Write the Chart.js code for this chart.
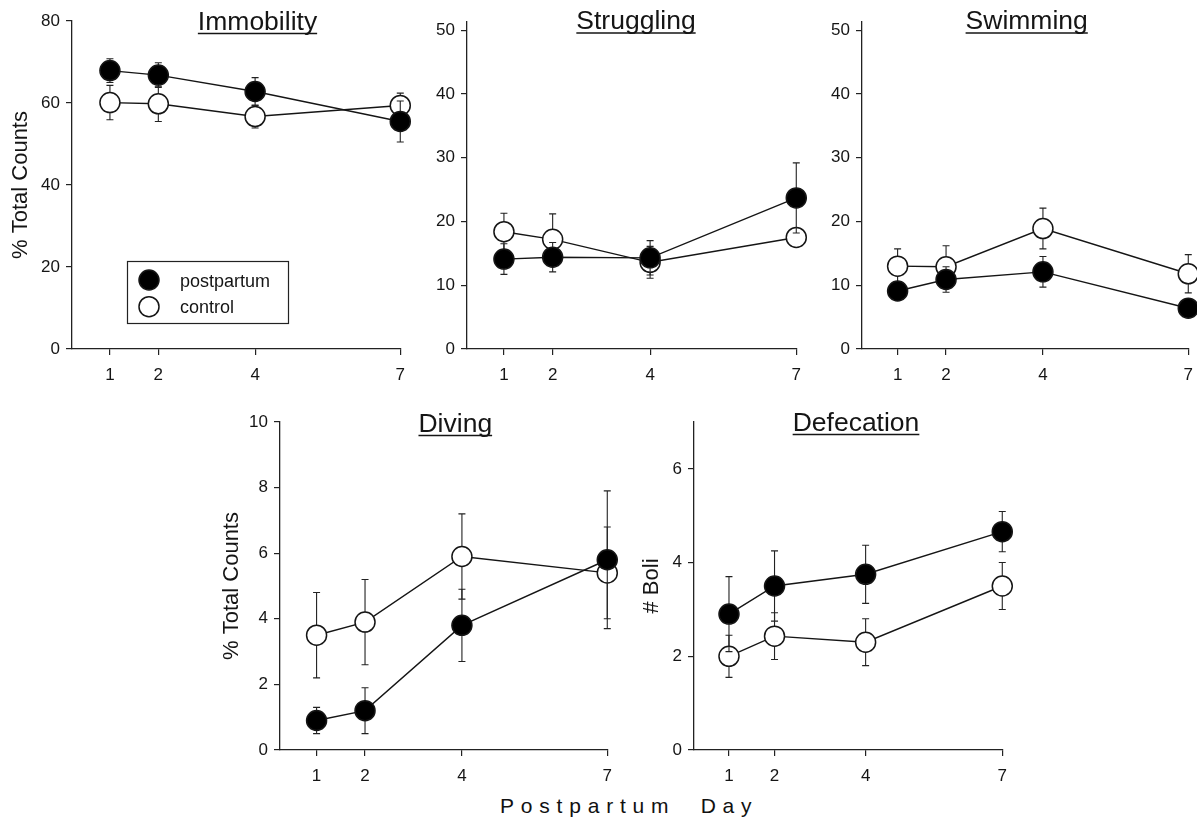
<!DOCTYPE html>
<html>
<head>
<meta charset="utf-8">
<script src="https://cdn.jsdelivr.net/npm/chart.js@4.4.1/dist/chart.umd.min.js"></script>
<style>
  html, body { margin: 0; padding: 0; background: #fff; width: 1197px; height: 824px; overflow: hidden; }
  canvas.panel { position: absolute; }
  #xlabel {
    position: absolute; left: 500px; top: 794px;
    font-family: 'Liberation Sans', Arial, sans-serif; font-size: 21px;
    letter-spacing: 6.8px; color: #111; white-space: pre;
  }
</style>
</head>
<body>
<canvas id="immobility" class="panel"></canvas>
<canvas id="struggling" class="panel"></canvas>
<canvas id="swimming" class="panel"></canvas>
<canvas id="diving" class="panel"></canvas>
<canvas id="defecation" class="panel"></canvas>
<div id="xlabel">Postpartum  Day</div>

<script>
// Postpartum test days
const days = [1, 2, 4, 7];
const dayTicks = [1, 2, 4, 7];

// Immobility (% total counts), mean and SEM
const immobilityPostpartum = [67.9, 66.8, 62.8, 55.5];
const immobilityPostpartumSem = [2.9, 3.0, 3.4, 5.0];
const immobilityControl = [60.1, 59.8, 56.7, 59.4];
const immobilityControlSem = [4.2, 4.3, 2.8, 3.0];
const immobilityTicks = [0, 20, 40, 60, 80];

// Struggling (% total counts)
const strugglingPostpartum = [14.1, 14.4, 14.3, 23.7];
const strugglingPostpartumSem = [2.4, 2.3, 2.7, 5.5];
const strugglingControl = [18.4, 17.2, 13.6, 17.5];
const strugglingControlSem = [2.9, 4.0, 2.5, 1.0];

// Swimming (% total counts)
const swimmingPostpartum = [9.1, 10.9, 12.1, 6.4];
const swimmingPostpartumSem = [1.5, 2.0, 2.4, 1.0];
const swimmingControl = [13.0, 12.9, 18.9, 11.8];
const swimmingControlSem = [2.7, 3.3, 3.2, 3.0];
const percentTicks = [0, 10, 20, 30, 40, 50];

// Diving (% total counts)
const divingPostpartum = [0.9, 1.2, 3.8, 5.8];
const divingPostpartumSem = [0.4, 0.7, 1.1, 2.1];
const divingControl = [3.5, 3.9, 5.9, 5.4];
const divingControlSem = [1.3, 1.3, 1.3, 1.4];
const divingTicks = [0, 2, 4, 6, 8, 10];

// Defecation (number of boli)
const boliPostpartum = [2.9, 3.5, 3.75, 4.66];
const boliPostpartumSem = [0.8, 0.75, 0.62, 0.43];
const boliControl = [2.0, 2.43, 2.3, 3.5];
const boliControlSem = [0.45, 0.5, 0.5, 0.5];
const boliTicks = [0, 2, 4, 6];

const seriesLabels = ['postpartum', 'control'];

const FONT = "'Liberation Sans', Arial, sans-serif";
const INK = '#151515';

// Vertical SEM bars, drawn just before each dataset so its own markers cover them
const errorBars = {
  id: 'errorBars',
  beforeDatasetDraw(chart, args) {
    const ds = chart.data.datasets[args.index];
    if (!ds.errors) return;
    const xs = chart.scales.x, ys = chart.scales.y, ctx = chart.ctx;
    ctx.save();
    ctx.strokeStyle = '#222';
    ctx.lineWidth = 1.1;
    ds.data.forEach((p, i) => {
      const e = ds.errors[i];
      const px = xs.getPixelForValue(p.x);
      const yTop = ys.getPixelForValue(p.y + e);
      const yBot = ys.getPixelForValue(p.y - e);
      ctx.beginPath();
      ctx.moveTo(px, yTop); ctx.lineTo(px, yBot);
      ctx.moveTo(px - 3.5, yTop); ctx.lineTo(px + 3.5, yTop);
      ctx.moveTo(px - 3.5, yBot); ctx.lineTo(px + 3.5, yBot);
      ctx.stroke();
    });
    ctx.restore();
  }
};

// Underlined panel heading
const panelHeading = {
  id: 'panelHeading',
  afterDraw(chart, args, opts) {
    if (!opts.text) return;
    const ctx = chart.ctx;
    ctx.save();
    ctx.font = '26.5px ' + FONT;
    ctx.fillStyle = INK;
    ctx.textAlign = 'center';
    ctx.textBaseline = 'alphabetic';
    ctx.fillText(opts.text, opts.x, opts.y);
    const w = ctx.measureText(opts.text).width;
    ctx.strokeStyle = INK;
    ctx.lineWidth = 1.6;
    ctx.beginPath();
    ctx.moveTo(opts.x - w / 2, opts.y + 4);
    ctx.lineTo(opts.x + w / 2, opts.y + 4);
    ctx.stroke();
    ctx.restore();
  }
};

// Boxed legend with the dataset markers
const boxedLegend = {
  id: 'boxedLegend',
  afterDraw(chart, args, opts) {
    if (!opts.show) return;
    const ctx = chart.ctx;
    ctx.save();
    ctx.strokeStyle = '#222';
    ctx.lineWidth = 1.2;
    ctx.strokeRect(opts.x, opts.y, opts.w, opts.h);
    ctx.font = '18px ' + FONT;
    ctx.textBaseline = 'alphabetic';
    ctx.textAlign = 'left';
    chart.data.datasets.forEach((ds, i) => {
      const cy = opts.y + 18.5 + i * 26.7;
      const cx = opts.x + 21.5;
      ctx.beginPath();
      ctx.arc(cx, cy, ds.pointRadius, 0, Math.PI * 2);
      ctx.fillStyle = ds.pointBackgroundColor;
      ctx.fill();
      ctx.lineWidth = ds.pointBorderWidth;
      ctx.strokeStyle = ds.pointBorderColor;
      ctx.stroke();
      ctx.fillStyle = INK;
      ctx.fillText(ds.label, opts.x + 52.5, cy + 6.5);
    });
    ctx.restore();
  }
};

function series(label, values, sems, fill) {
  return {
    label,
    data: days.map((d, i) => ({ x: d, y: values[i] })),
    errors: sems,
    borderColor: INK,
    borderWidth: 1.4,
    pointRadius: 10,
    pointBorderWidth: 1.5,
    pointBackgroundColor: fill,
    pointBorderColor: INK,
    pointHoverRadius: 10,
    fill: false,
    tension: 0,
    clip: false
  };
}

function axisStyle() {
  return {
    grid: { display: true, drawOnChartArea: false, drawTicks: true, tickLength: 6, color: '#222', lineWidth: 1.2 },
    border: { display: true, color: '#222', width: 1.3 }
  };
}

// area: chart-area box on the page; heading: centre x / baseline y on the page
function makePanel(id, p) {
  const Y_AXIS_W = 72, X_AXIS_H = 42, PAD_R = 14;
  const canvas = document.getElementById(id);
  const left = p.area.left - Y_AXIS_W;
  const top = p.canvasTop;
  const padTop = p.area.top - top;
  const width = Y_AXIS_W + (p.area.right - p.area.left) + PAD_R;
  const height = padTop + (p.area.bottom - p.area.top) + X_AXIS_H;
  canvas.style.left = left + 'px';
  canvas.style.top = top + 'px';
  canvas.width = width;
  canvas.height = height;

  const xs = axisStyle();
  const ys = axisStyle();
  return new Chart(canvas, {
    type: 'line',
    data: {
      datasets: [
        series(seriesLabels[0], p.post, p.postSem, '#000'),
        series(seriesLabels[1], p.ctrl, p.ctrlSem, '#fff')
      ]
    },
    options: {
      responsive: false,
      animation: false,
      events: [],
      layout: { padding: { left: 0, top: padTop, right: PAD_R, bottom: 0 } },
      plugins: {
        legend: { display: false },
        tooltip: { enabled: false },
        panelHeading: { text: p.title, x: p.heading.x - left, y: p.heading.y - top },
        boxedLegend: p.legend ? Object.assign({ show: true }, {
          x: p.legend.x - left, y: p.legend.y - top, w: p.legend.w, h: p.legend.h
        }) : { show: false }
      },
      scales: {
        x: Object.assign(xs, {
          type: 'linear',
          min: p.xMin, max: 7,
          afterBuildTicks: s => { s.ticks = dayTicks.map(v => ({ value: v })); },
          afterFit: s => { s.height = X_AXIS_H; },
          ticks: { font: { family: FONT, size: 17 }, color: INK, padding: 10, maxRotation: 0, autoSkip: false }
        }),
        y: Object.assign(ys, {
          type: 'linear',
          min: 0, max: p.yMax,
          afterBuildTicks: s => { s.ticks = p.yTicks.map(v => ({ value: v })); },
          afterFit: s => { s.width = Y_AXIS_W; },
          ticks: { font: { family: FONT, size: 17 }, color: INK, padding: 6 },
          title: {
            display: !!p.yTitle,
            text: p.yTitle || '',
            color: INK,
            font: { family: FONT, size: 22 },
            padding: { top: (p.yTitleX || 0) - left - 13.2, bottom: 0 }
          }
        })
      }
    },
    plugins: [errorBars, panelHeading, boxedLegend]
  });
}

makePanel('immobility', {
  title: 'Immobility', heading: { x: 257.5, y: 29.5 },
  area: { left: 72, right: 401, top: 21, bottom: 349 }, canvasTop: 0,
  xMin: 0.216, yMax: 80, yTicks: immobilityTicks,
  yTitle: '% Total Counts', yTitleX: 21,
  post: immobilityPostpartum, postSem: immobilityPostpartumSem,
  ctrl: immobilityControl, ctrlSem: immobilityControlSem,
  legend: { x: 127.5, y: 261.5, w: 161, h: 62 }
});

makePanel('struggling', {
  title: 'Struggling', heading: { x: 636, y: 29 },
  area: { left: 467, right: 797, top: 22, bottom: 349 }, canvasTop: 0,
  xMin: 0.242, yMax: 51.3, yTicks: percentTicks,
  post: strugglingPostpartum, postSem: strugglingPostpartumSem,
  ctrl: strugglingControl, ctrlSem: strugglingControlSem
});

makePanel('swimming', {
  title: 'Swimming', heading: { x: 1026.7, y: 29 },
  area: { left: 862, right: 1189, top: 22, bottom: 349 }, canvasTop: 0,
  xMin: 0.265, yMax: 51.3, yTicks: percentTicks,
  post: swimmingPostpartum, postSem: swimmingPostpartumSem,
  ctrl: swimmingControl, ctrlSem: swimmingControlSem
});

makePanel('diving', {
  title: 'Diving', heading: { x: 455.3, y: 431.5 },
  area: { left: 280, right: 608, top: 422, bottom: 750 }, canvasTop: 380,
  xMin: 0.245, yMax: 10, yTicks: divingTicks,
  yTitle: '% Total Counts', yTitleX: 231.7,
  post: divingPostpartum, postSem: divingPostpartumSem,
  ctrl: divingControl, ctrlSem: divingControlSem
});

makePanel('defecation', {
  title: 'Defecation', heading: { x: 856, y: 430.5 },
  area: { left: 694, right: 1003, top: 422, bottom: 750 }, canvasTop: 380,
  xMin: 0.232, yMax: 7, yTicks: boliTicks,
  yTitle: '# Boli', yTitleX: 651.7,
  post: boliPostpartum, postSem: boliPostpartumSem,
  ctrl: boliControl, ctrlSem: boliControlSem
});
</script>
</body>
</html>
